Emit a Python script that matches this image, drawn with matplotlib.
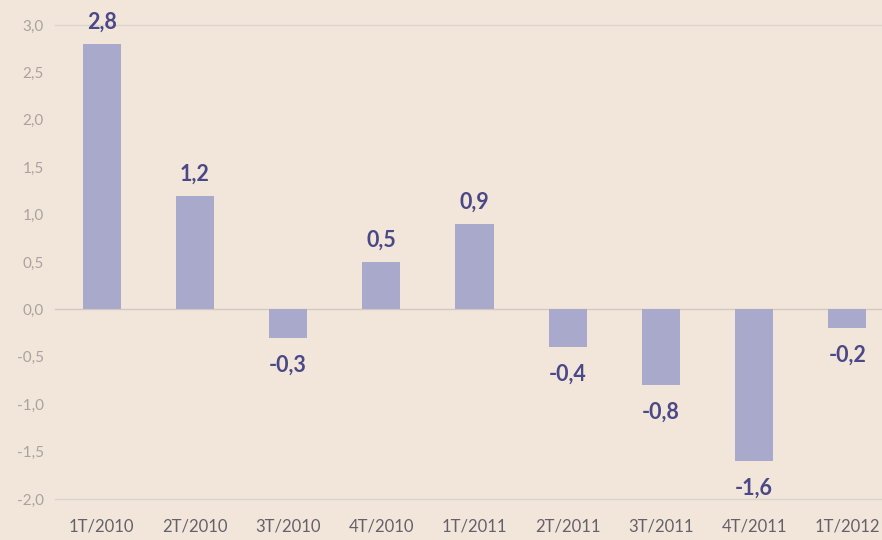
import matplotlib.pyplot as plt
from matplotlib.ticker import FuncFormatter

# quarterly change, %
quarters = ['1T/2010', '2T/2010', '3T/2010', '4T/2010', '1T/2011',
            '2T/2011', '3T/2011', '4T/2011', '1T/2012']
values = [2.8, 1.2, -0.3, 0.5, 0.9, -0.4, -0.8, -1.6, -0.2]
yticks = [3.0, 2.5, 2.0, 1.5, 1.0, 0.5, 0.0, -0.5, -1.0, -1.5, -2.0]

bg = '#f2e6db'
bar_color = '#a9aacb'
label_color = '#4a4886'

plt.rcParams['font.family'] = ['Lato', 'DejaVu Sans']

fig = plt.figure(figsize=(8.82, 5.40), dpi=100)
fig.patch.set_facecolor(bg)
# right end runs slightly past the figure edge
ax = fig.add_axes([55 / 882, 1 - 499 / 540, (894 - 55) / 882, (499 - 25) / 540])
ax.set_facecolor(bg)

x = list(range(len(quarters)))
ax.bar(x, values, width=0.41, color=bar_color, zorder=2)

ax.set_xlim(-0.5, len(quarters) - 0.5)
ax.set_ylim(-2.0, 3.0)

for y, c in [(3.0, '#ddd4cb'), (0.0, '#d3c9bf'), (-2.0, '#ddd4cb')]:
    ax.axhline(y, color=c, lw=1.0, zorder=1, clip_on=False)

for xi, v in zip(x, values):
    txt = f'{v:.1f}'.replace('.', ',')
    if v >= 0:
        ax.annotate(txt, (xi, v), xytext=(0, 8), textcoords='offset points',
                    ha='center', va='bottom', fontsize=15.5, fontweight='bold',
                    color=label_color, annotation_clip=False)
    else:
        ax.annotate(txt, (xi, v), xytext=(0, -12), textcoords='offset points',
                    ha='center', va='top', fontsize=15.5, fontweight='bold',
                    color=label_color, annotation_clip=False)

ax.set_yticks(yticks)
ax.yaxis.set_major_formatter(FuncFormatter(lambda v, p: f'{v:.1f}'.replace('.', ',')))
ax.set_xticks(x)
ax.set_xticklabels(quarters)
ax.tick_params(axis='y', length=0, pad=8, labelsize=11, labelcolor='#aaa39c')
ax.tick_params(axis='x', length=0, pad=14, labelsize=12, labelcolor='#66606a')

for s in ax.spines.values():
    s.set_visible(False)

plt.savefig('out.png', dpi=100, facecolor=bg)
